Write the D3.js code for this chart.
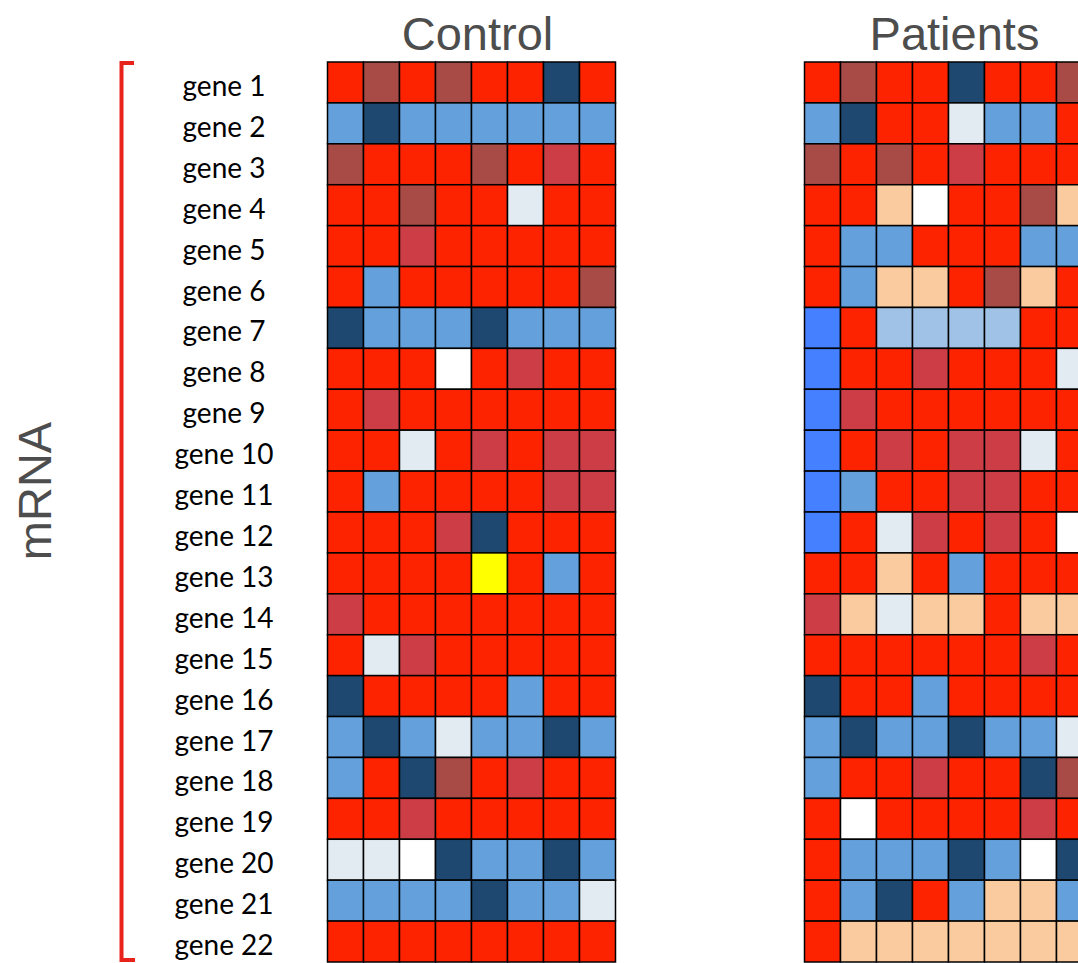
<!DOCTYPE html>
<html>
<head>
<meta charset="utf-8">
<script src="https://cdn.jsdelivr.net/npm/d3@7"></script>
<style>
  html, body { margin: 0; padding: 0; background: #fff; }
  svg { display: block; }
</style>
</head>
<body>
<svg id="chart" width="1078" height="963"></svg>
<script>
// Gene rows shown in both heatmaps
const genes = d3.range(1, 23).map(i => "gene " + i);
const groups = ["Control", "Patients"];
const samples = d3.range(8);

// Expression level codes per cell (one string per gene, one letter per sample)
//  R high, B high-muted, C high-mid, O mild, W neutral, P slight-low,
//  S low-soft, L low, V low-strong, D very low, Y outlier
const controlLevels = [
  "RBRBRRDR", "LDLLLLLL", "BRRRBRCR", "RRBRRPRR", "RRCRRRRR", "RLRRRRRB",
  "DLLLDLLL", "RRRWRCRR", "RCRRRRRR", "RRPRCRCC", "RLRRRRCC", "RRRCDRRR",
  "RRRRYRLR", "CRRRRRRR", "RPCRRRRR", "DRRRRLRR", "LDLPLLDL", "LRDBRCRR",
  "RRCRRRRR", "PPWDLLDL", "LLLLDLLP", "RRRRRRRR"
];
const patientLevels = [
  "RBRRDRRB", "LDRRPLLR", "BRBRCRRR", "RROWRRBO", "RLLRRRLL", "RLOORBOR",
  "VRSSSSRR", "VRRCRRRP", "VCRRRRRR", "VRCRCCPR", "VLRRCCRR", "VRPCRCRW",
  "RRORLRRR", "COPOOROO", "RRRRRRCR", "DRRLRRRR", "LDLLDLLP", "LRRCRRDB",
  "RWRRRRCR", "RLLLDLWD", "RLDRLOOL", "ROOOOOOO"
];
const levelCodes = ["R", "B", "C", "O", "W", "P", "S", "L", "V", "D", "Y"];
const levelColors = ["#fe2300", "#a84a46", "#cd3d46", "#facb9f", "#ffffff",
                     "#e2eaf2", "#a0c2e6", "#64a0dc", "#4480ff", "#1e4870", "#ffff00"];

const svg = d3.select("#chart");

const color = d3.scaleOrdinal().domain(levelCodes).range(levelColors);

const y = d3.scaleBand().domain(genes).range([62, 962]).paddingInner(0);

// Each panel gets its own x band scale
const panelLeft = { Control: 327.5, Patients: 804.5 };
const cellW = 36;

const panels = [
  { name: "Control", rows: controlLevels },
  { name: "Patients", rows: patientLevels }
];

panels.forEach(p => {
  const x = d3.scaleBand()
    .domain(samples)
    .range([panelLeft[p.name], panelLeft[p.name] + cellW * samples.length]);

  const cells = [];
  p.rows.forEach((row, gi) => {
    row.split("").forEach((code, si) => {
      cells.push({ gene: genes[gi], sample: si, code });
    });
  });

  const g = svg.append("g").attr("class", "panel");
  g.selectAll("rect")
    .data(cells)
    .join("rect")
    .attr("x", d => x(d.sample))
    .attr("y", d => y(d.gene))
    .attr("width", x.bandwidth())
    .attr("height", y.bandwidth())
    .attr("fill", d => color(d.code))
    .attr("stroke", "#000")
    .attr("stroke-width", 1.5);

  svg.append("text")
    .attr("x", (x.range()[0] + x.range()[1]) / 2 + 6)
    .attr("y", 50)
    .attr("text-anchor", "middle")
    .attr("font-family", "'Liberation Sans', Arial, sans-serif")
    .attr("font-size", 47)
    .attr("fill", "#4d4d4d")
    .text(p.name);
});

// Gene labels
svg.append("g")
  .selectAll("text")
  .data(genes)
  .join("text")
  .attr("x", 224)
  .attr("y", d => y(d) + y.bandwidth() / 2 + 13.5)
  .attr("text-anchor", "middle")
  .attr("font-family", "Lato, 'Open Sans', sans-serif")
  .attr("font-size", 28)
  .attr("fill", "#000")
  .text(d => d);

// Red bracket grouping the mRNA rows
const bracketTop = y.range()[0] + 1, bracketBottom = y.range()[1] - 2;
svg.append("path")
  .attr("d", `M134,${bracketTop} H121.5 V${bracketBottom} H135`)
  .attr("fill", "none")
  .attr("stroke", "#e8231b")
  .attr("stroke-width", 4);

svg.append("text")
  .attr("transform", `translate(51,491) rotate(-90)`)
  .attr("text-anchor", "middle")
  .attr("font-family", "'Liberation Sans', Arial, sans-serif")
  .attr("font-size", 47)
  .attr("fill", "#4d4d4d")
  .text("mRNA");
</script>
</body>
</html>
